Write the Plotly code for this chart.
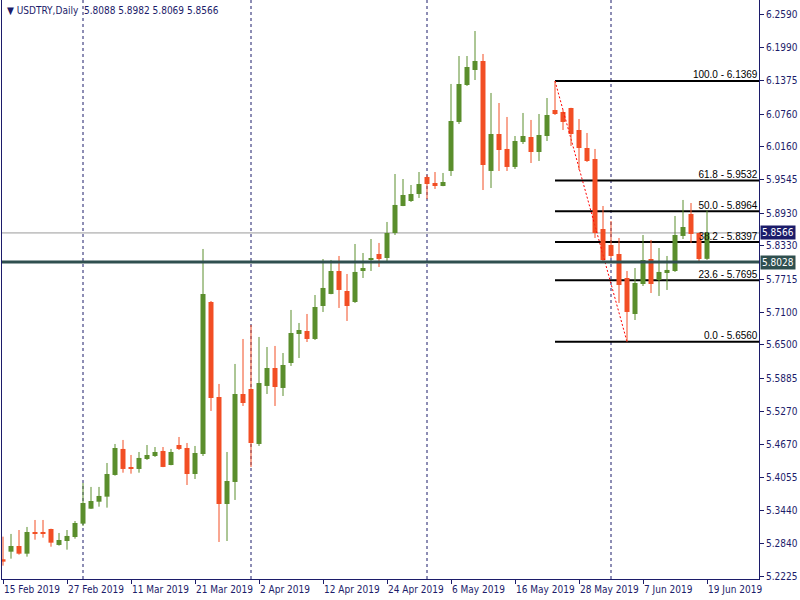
import pandas as pd
import plotly.graph_objects as go

# ---------------- data ----------------
symbol = "USDTRY,Daily"
dates = pd.bdate_range("2019-02-15", "2019-06-19")

open_ = [5.2546, 5.2686, 5.2791, 5.2649, 5.3049, 5.3031, 5.3105, 5.2810, 5.2883, 5.2957,
         5.3203, 5.3479, 5.3608, 5.3701, 5.4101, 5.4581, 5.4230, 5.4212, 5.4396, 5.4451,
         5.4544, 5.4285, 5.4654, 5.4599, 5.4119, 5.4488, 5.7292, 5.5540, 5.3566, 5.3972,
         5.5595, 5.5687, 5.4673, 5.5743, 5.6075, 5.5706, 5.6167, 5.6702, 5.6757, 5.6610,
         5.7218, 5.7440, 5.7864, 5.7495, 5.7292, 5.7864, 5.8067, 5.8178, 5.8104, 5.8565,
         5.9063, 5.9155, 5.9284, 5.9598, 5.9487, 5.9432, 5.9709, 6.0613, 6.1295, 6.1572,
         6.1738, 5.9709, 6.0391, 6.0115, 5.9783, 6.0244, 6.0336, 6.0059, 6.0354, 6.0834,
         6.0797, 6.0871, 6.0465, 6.0133, 5.9930, 5.8639, 5.8344, 5.8178, 5.7735, 5.7071,
         5.7624, 5.8085, 5.7698, 5.7827, 5.7864, 5.8510, 5.8916, 5.8565, 5.8088]

high = [5.2963, 5.3013, 5.3086, 5.3142, 5.3271, 5.3271, 5.3110, 5.3031, 5.3086, 5.3252,
        5.3953, 5.3880, 5.3880, 5.4322, 5.4673, 5.4747, 5.4470, 5.4525, 5.4654, 5.4617,
        5.4617, 5.4581, 5.4802, 5.4691, 5.4636, 5.8270, 5.7311, 5.5780, 5.4525, 5.6149,
        5.6610, 5.6868, 5.6647, 5.6462, 5.6481, 5.6351, 5.7145, 5.6905, 5.7071, 5.7421,
        5.8085, 5.8067, 5.8141, 5.7809, 5.8362, 5.8196, 5.8454, 5.8381, 5.8768, 5.9653,
        5.9561, 5.9450, 5.9690, 5.9635, 5.9690, 5.9672, 6.1314, 6.1830, 6.1830, 6.2291,
        6.1867, 6.1148, 6.0963, 6.0705, 6.0354, 6.0779, 6.0650, 6.0760, 6.1055, 6.1369,
        6.0834, 6.0875, 6.0668, 6.0410, 6.0115, 5.9063, 5.8786, 5.8473, 5.7864, 5.7919,
        5.8528, 5.8436, 5.8288, 5.8141, 5.8879, 5.9174, 5.9118, 5.8570, 5.8982]

low = [5.2428, 5.2557, 5.2631, 5.2594, 5.2907, 5.2944, 5.2778, 5.2797, 5.2723, 5.2926,
       5.3160, 5.3475, 5.3516, 5.3498, 5.4088, 5.4143, 5.4125, 5.4143, 5.4378, 5.4433,
       5.4245, 5.4280, 5.4562, 5.3916, 5.4027, 5.4451, 5.5282, 5.2865, 5.2883, 5.3640,
       5.5374, 5.4249, 5.4636, 5.5595, 5.5374, 5.5558, 5.6112, 5.6259, 5.6554, 5.6591,
       5.7108, 5.7435, 5.7182, 5.6942, 5.7274, 5.7735, 5.7864, 5.7938, 5.8049, 5.8528,
       5.9060, 5.9137, 5.9211, 5.9192, 5.9377, 5.9428, 5.9617, 6.0576, 6.1277, 6.1387,
       5.9358, 5.9395, 5.9709, 5.9709, 5.9746, 6.0207, 5.9856, 5.9893, 6.0262, 6.0742,
       6.0465, 6.0170, 5.9727, 5.9875, 5.8473, 5.8030, 5.8104, 5.7274, 5.6560, 5.6960,
       5.7587, 5.7458, 5.7403, 5.7514, 5.7846, 5.8454, 5.8381, 5.8030, 5.8069]

close = [5.2502, 5.2791, 5.2649, 5.3049, 5.3018, 5.3013, 5.2852, 5.2902, 5.2976, 5.3215,
         5.3584, 5.3621, 5.3714, 5.4119, 5.4599, 5.4212, 5.4212, 5.4415, 5.4470, 5.4525,
         5.4249, 5.4525, 5.4581, 5.4119, 5.4507, 5.7440, 5.5521, 5.3566, 5.3990, 5.5595,
         5.5429, 5.4691, 5.5798, 5.6075, 5.5724, 5.6130, 5.6720, 5.6776, 5.6610, 5.7200,
         5.7551, 5.7864, 5.7514, 5.7218, 5.7846, 5.7919, 5.8104, 5.8085, 5.8565, 5.9082,
         5.9266, 5.9284, 5.9469, 5.9469, 5.9432, 5.9506, 6.0631, 6.1314, 6.1627, 6.1738,
         5.9819, 6.0391, 6.0096, 5.9783, 6.0262, 6.0354, 6.0059, 6.0373, 6.0742, 6.0760,
         6.0613, 6.0391, 6.0133, 5.9893, 5.8565, 5.8067, 5.8141, 5.7606, 5.7108, 5.7643,
         5.8067, 5.7624, 5.7846, 5.7883, 5.8528, 5.8676, 5.8547, 5.8085, 5.8566]

tick_labels = ["15 Feb 2019", "27 Feb 2019", "11 Mar 2019", "21 Mar 2019", "2 Apr 2019",
               "12 Apr 2019", "24 Apr 2019", "6 May 2019", "16 May 2019", "28 May 2019",
               "7 Jun 2019", "19 Jun 2019"]

y_ticks = [6.2590, 6.1990, 6.1375, 6.0760, 6.0160, 5.9545, 5.8930, 5.8330, 5.7715,
           5.7100, 5.6500, 5.5885, 5.5270, 5.4670, 5.4055, 5.3440, 5.2840, 5.2225]

fib_levels = [100.0, 61.8, 50.0, 38.2, 23.6, 0.0]
fib_prices = [6.1369, 5.9532, 5.8964, 5.8397, 5.7695, 5.6560]

hline_price = 5.8028

# ---------------- styles ----------------
GREEN = "#5b8e2d"
RED = "#f24e24"
NAVY = "#1c1c6a"
SLATE = "#2f4f4f"
FONT = "Tahoma, DejaVu Sans Condensed, Liberation Sans, Arial, sans-serif"

n = len(dates)
xs = list(range(n))
bid_price = close[-1]

X_RANGE = [-0.125, 94.5]
Y_RANGE = [5.2182, 6.2863]


def label_of(d):
    return f"{d.day} {d.strftime('%b %Y')}"


tick_pos = [[k for k, d in enumerate(dates) if label_of(d) == t][0] for t in tick_labels]

fig = go.Figure()

# fib labels (drawn first so candles cover them)
fig.add_trace(go.Scatter(
    x=[94.3] * len(fib_levels), y=fib_prices, mode="text",
    text=[f"{l:.1f} - {p:.4f}" for l, p in zip(fib_levels, fib_prices)],
    textposition="top left", textfont=dict(family="Liberation Sans", size=10, color="#000000"),
    hoverinfo="skip", showlegend=False))

# fib trend line (red dotted) from the high to the low
hi_idx = high.index(fib_prices[0])
lo_idx = low.index(fib_prices[-1])
fig.add_trace(go.Scatter(
    x=[hi_idx, lo_idx], y=[high[hi_idx], low[lo_idx]], mode="lines",
    line=dict(color="#ff0000", width=1, dash="2px,2px"),
    hoverinfo="skip", showlegend=False))

# wicks
for col, up in ((GREEN, True), (RED, False)):
    wx, wy = [], []
    for i in xs:
        if (close[i] >= open_[i]) == up:
            wx += [i, i, None]
            wy += [low[i], high[i], None]
    fig.add_trace(go.Scatter(x=wx, y=wy, mode="lines", line=dict(color=col, width=1),
                             hoverinfo="skip", showlegend=False))

# bodies
for col, up in ((GREEN, True), (RED, False)):
    bx, bb, bh = [], [], []
    for i in xs:
        if (close[i] >= open_[i]) == up:
            bx.append(i)
            bb.append(min(open_[i], close[i]))
            bh.append(abs(close[i] - open_[i]))
    fig.add_trace(go.Bar(x=bx, y=bh, base=bb, width=0.625, marker=dict(color=col, line=dict(width=0)),
                         hoverinfo="skip", showlegend=False))

shapes = []
# month separators
for i in range(1, n):
    if dates[i].month != dates[i - 1].month:
        shapes.append(dict(type="line", xref="x", yref="paper", x0=i, x1=i, y0=0, y1=1,
                           line=dict(color=NAVY, width=1, dash="3px,3px"), layer="below"))
# bid line
shapes.append(dict(type="line", xref="paper", yref="y", x0=0, x1=1, y0=bid_price, y1=bid_price,
                   line=dict(color="#9a9a9a", width=1), layer="below"))
# fib levels
for p in fib_prices:
    shapes.append(dict(type="line", xref="x", yref="y", x0=hi_idx, x1=X_RANGE[1], y0=p, y1=p,
                       line=dict(color="#000000", width=2), layer="below"))
# horizontal line
shapes.append(dict(type="line", xref="paper", yref="y", x0=0, x1=1, y0=hline_price, y1=hline_price,
                   line=dict(color=SLATE, width=3), layer="above"))

annotations = []
# x labels (left-aligned at tick)
for t, i in zip(tick_labels, tick_pos):
    annotations.append(dict(x=i, y=0, xref="x", yref="paper", text=t, showarrow=False,
                            xanchor="left", yanchor="top", yshift=-3, xshift=-1,
                            font=dict(family=FONT, size=10, color=NAVY)))
# price labels on axis
for p, bg in ((bid_price, NAVY), (hline_price, SLATE)):
    annotations.append(dict(x=1, y=p, xref="paper", yref="y", text=f"{p:.4f}", showarrow=False,
                            xanchor="left", yanchor="middle", xshift=1, bgcolor=bg, borderpad=1,
                            font=dict(family=FONT, size=10, color="#ffffff")))
# header
annotations.append(dict(x=0, y=1, xref="paper", yref="paper", xanchor="left", yanchor="top",
                        xshift=3, yshift=-3, showarrow=False,
                        text=f"▼ {symbol}  {open_[-1]:.4f} {high[-1]:.4f} {low[-1]:.4f} {close[-1]:.4f}",
                        font=dict(family=FONT, size=10, color=NAVY)))

fig.update_layout(
    width=800, height=600, margin=dict(l=2, r=41, t=0, b=21),
    paper_bgcolor="#ffffff", plot_bgcolor="#ffffff",
    barmode="overlay", showlegend=False, shapes=shapes, annotations=annotations,
    xaxis=dict(range=X_RANGE, tickvals=tick_pos,
               showticklabels=False, ticks="outside", ticklen=4, tickcolor=NAVY,
               showline=True, linecolor=NAVY, linewidth=1, showgrid=False, zeroline=False),
    yaxis=dict(range=Y_RANGE, side="right", tickvals=y_ticks, ticktext=[f"{v:.4f}" for v in y_ticks],
               ticks="outside", ticklen=4, tickcolor=NAVY, showline=True, linecolor=NAVY,
               linewidth=1, mirror=True, showgrid=False, zeroline=False,
               tickfont=dict(family=FONT, size=10, color=NAVY)),
)

fig.write_html("out.html", config={"displayModeBar": False},
               post_script="document.body.style.margin='0px';document.body.style.overflow='hidden';")
